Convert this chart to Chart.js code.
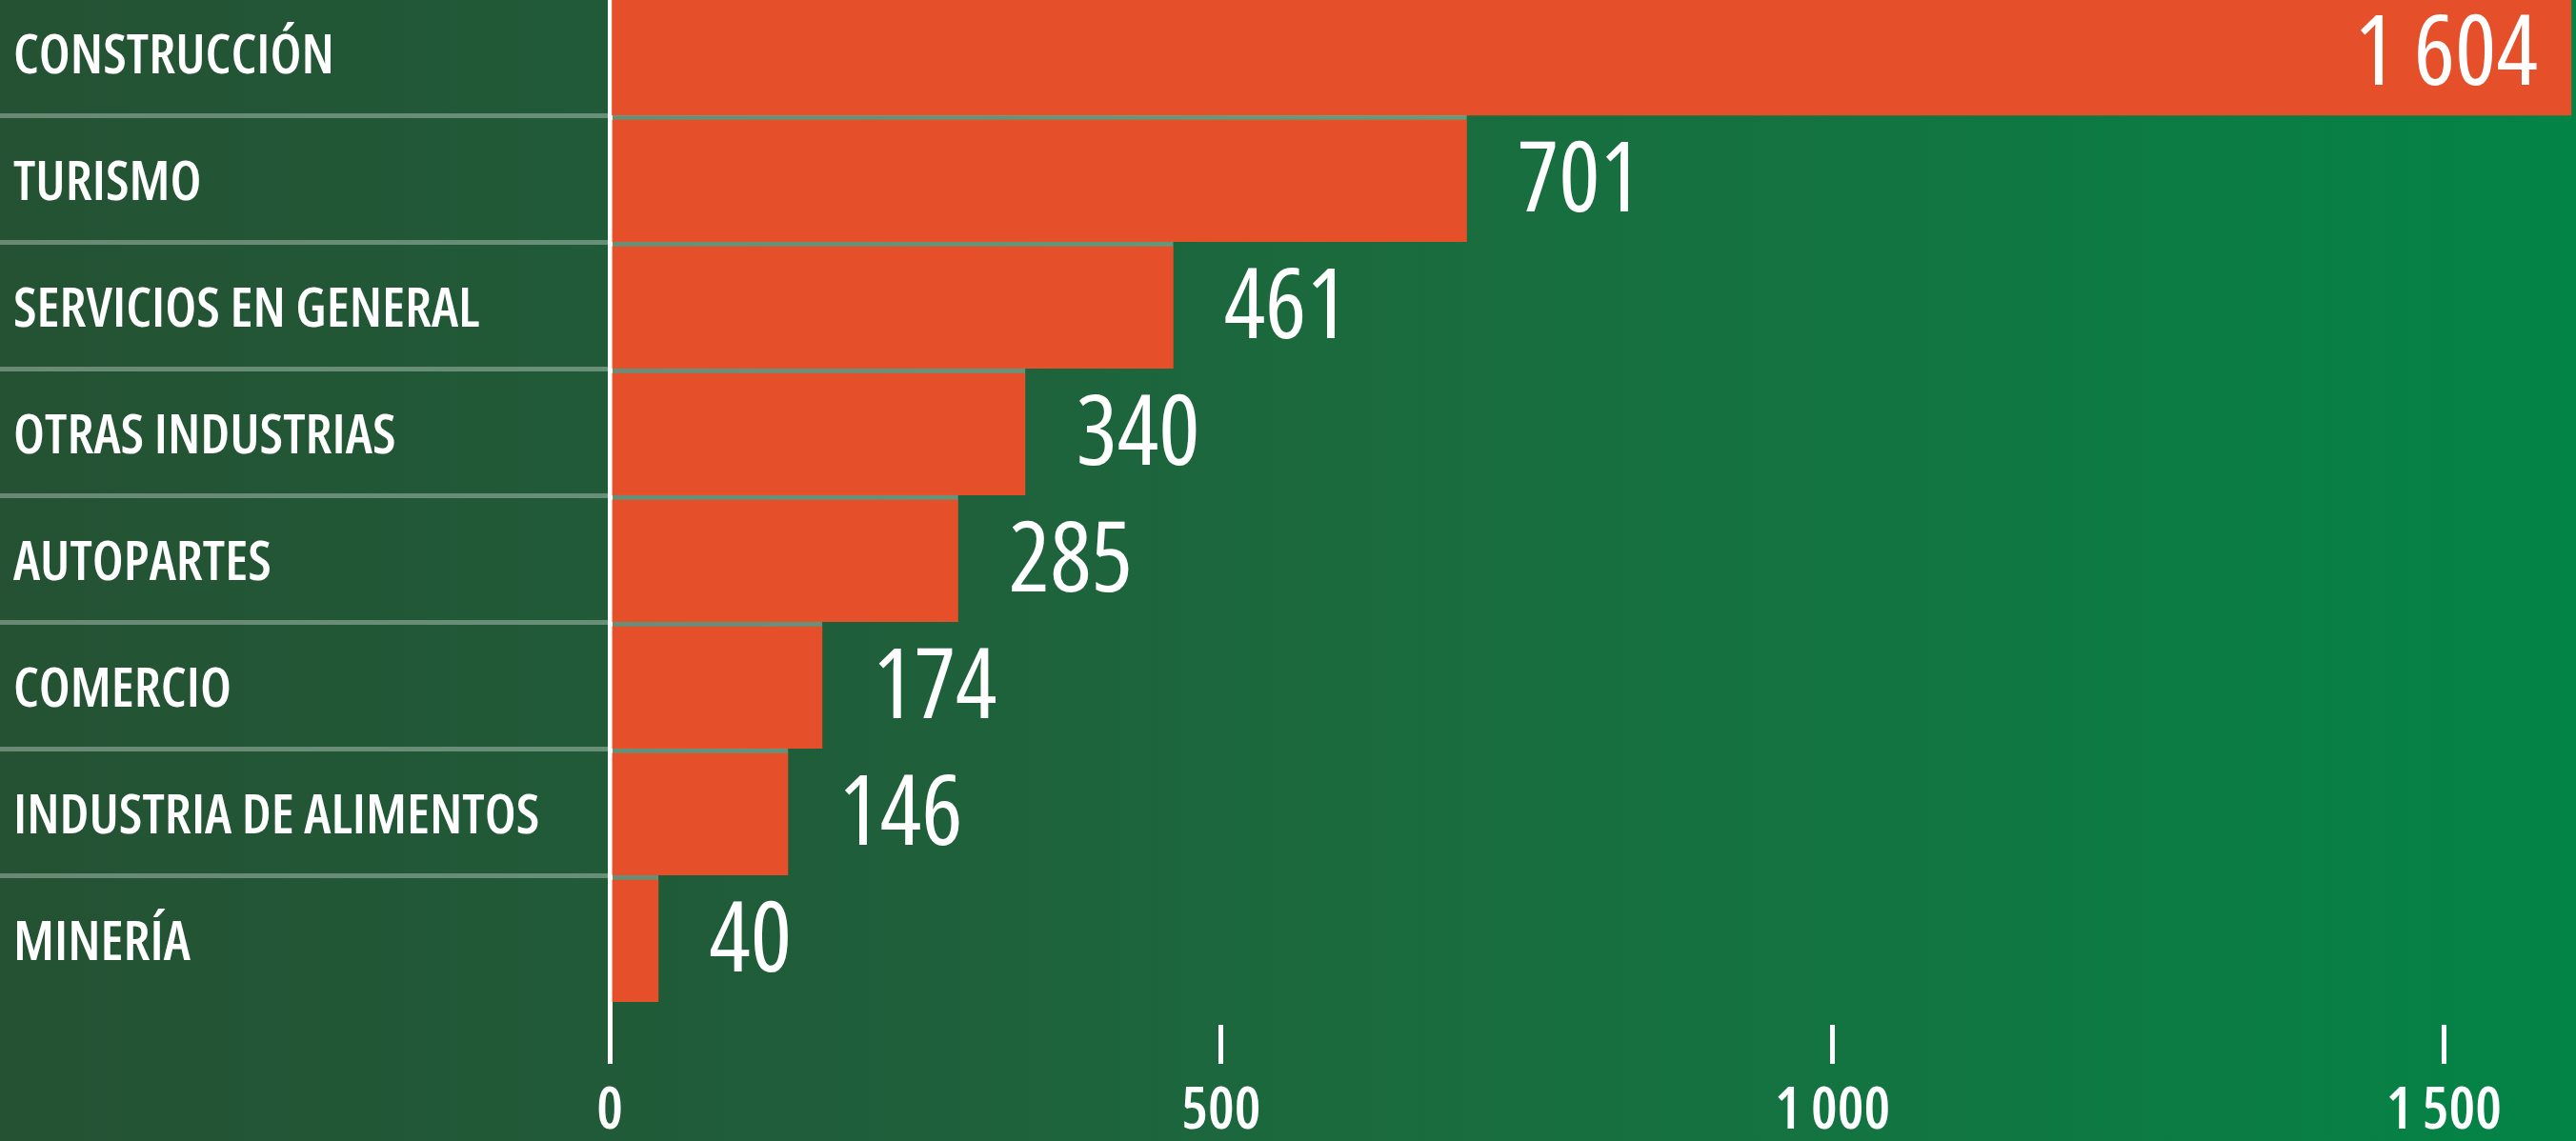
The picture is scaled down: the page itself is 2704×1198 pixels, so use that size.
<!DOCTYPE html>
<html>
<head>
<meta charset="utf-8">
<script src="https://cdn.jsdelivr.net/npm/chart.js@4"></script>
<style>
  html, body { margin: 0; padding: 0; background: #1d5f3a; overflow: hidden; }
  #wrap { position: absolute; left: 0; top: -12px; width: 2704px; height: 1210px; }
</style>
</head>
<body>
<div id="wrap"><canvas id="chart"></canvas></div>
<script>
// sectores y empleos
const sectores = ['CONSTRUCCIÓN', 'TURISMO', 'SERVICIOS EN GENERAL', 'OTRAS INDUSTRIAS',
  'AUTOPARTES', 'COMERCIO', 'INDUSTRIA DE ALIMENTOS', 'MINERÍA'];
const empleos = [1604, 701, 461, 340, 285, 174, 146, 40];
const ticksX = [0, 500, 1000, 1500];

// Open Sans variable, estrechada (font-stretch va en el peso porque Chart.js arma el string)
const FAMILIA = "'Open Sans', sans-serif";

function miles(v, sep) {
  return String(v).replace(/\B(?=(\d{3})+(?!\d))/g, sep);
}

// fondo degradado verde
const fondo = {
  id: 'fondo',
  beforeDraw(chart) {
    const { ctx, width, height } = chart;
    const g = ctx.createLinearGradient(0, 0, width, 0);
    g.addColorStop(0, '#245233');
    g.addColorStop(0.33, '#1f5e3a');
    g.addColorStop(0.52, '#1b6a3e');
    g.addColorStop(0.74, '#127541');
    g.addColorStop(1, '#038447');
    ctx.save();
    ctx.fillStyle = g;
    ctx.fillRect(0, 0, width, height);
    ctx.restore();
  }
};

// cifras al final de cada barra
const cifras = {
  id: 'cifras',
  afterDatasetsDraw(chart) {
    const { ctx, chartArea } = chart;
    const meta = chart.getDatasetMeta(0);
    ctx.save();
    ctx.font = 'condensed 400 102px ' + FAMILIA;
    ctx.fillStyle = '#ffffff';
    ctx.textBaseline = 'middle';
    meta.data.forEach((bar, i) => {
      const txt = miles(empleos[i], ' ');
      const w = ctx.measureText(txt).width;
      const y = bar.y + 5;
      if (bar.x + 53 + w > chartArea.right) {
        ctx.textAlign = 'right';
        ctx.fillText(txt, bar.x - 35, y);
      } else {
        ctx.textAlign = 'left';
        ctx.fillText(txt, bar.x + 53, y);
      }
    });
    ctx.restore();
  }
};

new Chart(document.getElementById('chart'), {
  type: 'bar',
  data: {
    labels: sectores,
    datasets: [{
      data: empleos,
      backgroundColor: '#e5502a',
      borderColor: 'rgba(255,255,255,0.32)',
      borderWidth: (c) => (c.dataIndex === 0 ? 0 : { top: 5, left: 0, right: 0, bottom: 0 }),
      borderSkipped: false,
      barPercentage: 1,
      categoryPercentage: 1,
    }],
  },
  options: {
    indexAxis: 'y',
    responsive: true,
    maintainAspectRatio: false,
    animation: false,
    layout: { padding: { left: 14, right: 0, top: 0, bottom: 0 } },
    plugins: { legend: { display: false }, tooltip: { enabled: false } },
    scales: {
      x: {
        min: 0,
        max: 1608,
        afterBuildTicks: (s) => { s.ticks = ticksX.map(v => ({ value: v })); },
        afterFit: (s) => { s.height = 146; s.paddingLeft = 0; s.paddingRight = 0; },
        border: { display: false },
        grid: {
          drawOnChartArea: false,
          drawTicks: true,
          tickLength: 65,
          color: '#ffffff',
          lineWidth: 5,
          tickBorderDash: (c) => (c.tick && c.tick.value === 0 ? [] : [0, 24, 41, 200]),
        },
        ticks: {
          color: '#ffffff',
          padding: 13,
          maxRotation: 0,
          font: { family: FAMILIA, size: 62, weight: 'condensed 600' },
          callback: (v) => miles(v, '\u2009'),
        },
      },
      y: {
        z: 1,
        afterFit: (s) => { s.width = 626; s.paddingTop = 0; s.paddingBottom = 0; },
        border: { display: true, color: '#ffffff', width: 5 },
        grid: {
          offset: true,
          drawOnChartArea: false,
          drawTicks: true,
          tickLength: 640,
          lineWidth: 5,
          color: (c) => (c.index === undefined || c.index === 0 || c.index >= sectores.length
            ? 'rgba(0,0,0,0)' : 'rgba(255,255,255,0.32)'),
        },
        ticks: {
          color: '#ffffff',
          crossAlign: 'far',
          labelOffset: 6,
          font: { family: FAMILIA, size: 58, weight: 'condensed 600' },
        },
      },
    },
  },
  plugins: [fondo, cifras],
});
</script>
</body>
</html>
